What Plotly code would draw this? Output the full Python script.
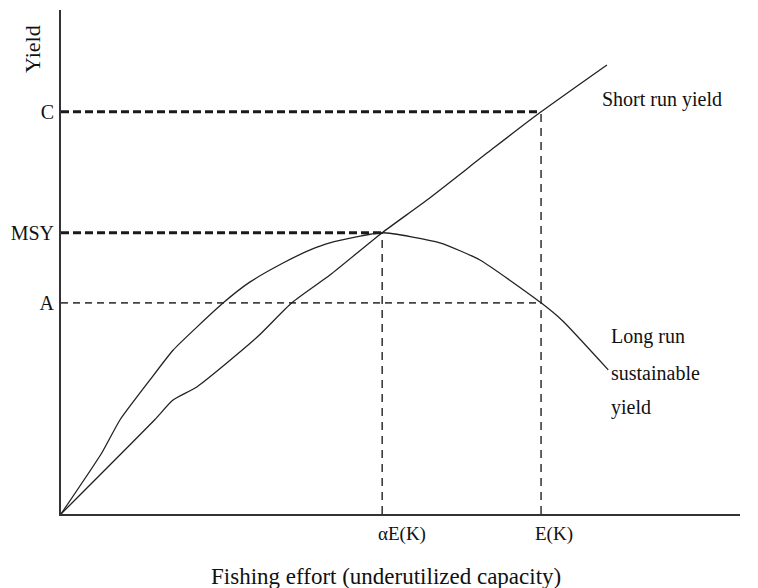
import plotly.graph_objects as go

# Data (arbitrary units)
effort_short = [0, 13.8, 16.5, 20.0, 28.9, 34.0, 39.6, 47.3, 53.9, 63.5, 70.7, 80.4]
yield_short = [0, 18.7, 22.6, 25.2, 35.1, 41.9, 47.4, 55.8, 62.3, 72.4, 79.8, 89.1]

effort_long = [0, 6.0, 8.7, 13.1, 16.5, 23.9, 27.8, 32.7, 36.7, 39.6, 47.3, 55.8, 61.7, 70.7, 73.9, 80.6]
yield_long = [0, 12.1, 18.7, 26.6, 32.5, 41.9, 46.0, 49.8, 52.4, 53.8, 55.8, 53.8, 50.4, 41.9, 38.3, 28.6]

E_msy = 47.3   # alpha E(K)
E_k = 70.7     # E(K)
MSY = 55.8
C = 79.8
A = 41.9

ytick_vals = [A, MSY, C]
ytick_text = ["A", "MSY", "C"]
xtick_vals = [E_msy, E_k]
xtick_text = ["\u03b1E(K)", "E(K)"]
xtick_shift = [-6, -8]

FONT = "Liberation Serif"
fig = go.Figure()

# reference lines
fig.add_trace(go.Scatter(x=[0, E_msy], y=[MSY, MSY], mode="lines",
                         line=dict(color="#1a1a1a", width=3, dash="8px,4px"), hoverinfo="skip"))
fig.add_trace(go.Scatter(x=[0, E_k], y=[C, C], mode="lines",
                         line=dict(color="#1a1a1a", width=3, dash="8px,4px"), hoverinfo="skip"))
fig.add_trace(go.Scatter(x=[0, E_k], y=[A, A], mode="lines",
                         line=dict(color="#444444", width=1.8, dash="7px,5px"), hoverinfo="skip"))
fig.add_trace(go.Scatter(x=[E_msy, E_msy], y=[0, MSY], mode="lines",
                         line=dict(color="#222222", width=1.4, dash="8px,6px"), hoverinfo="skip"))
fig.add_trace(go.Scatter(x=[E_k, E_k], y=[0, C], mode="lines",
                         line=dict(color="#222222", width=1.4, dash="8px,6px"), hoverinfo="skip"))

# curves
fig.add_trace(go.Scatter(x=effort_short, y=yield_short, mode="lines", name="Short run yield",
                         line=dict(color="#222222", width=1.3, shape="spline", smoothing=0.6)))
fig.add_trace(go.Scatter(x=effort_long, y=yield_long, mode="lines", name="Long run sustainable yield",
                         line=dict(color="#222222", width=1.3, shape="spline", smoothing=0.5)))

lab = dict(family=FONT, size=20, color="#111")
fig.add_annotation(x=79.4, y=82.3, xref="x", yref="y", text="Short run yield", showarrow=False,
                   xanchor="left", yanchor="middle", font=lab)
for txt, yy in [("Long run", 35.3), ("sustainable", 28.0), ("yield", 21.2)]:
    fig.add_annotation(x=80.7, y=yy, xref="x", yref="y", text=txt, showarrow=False,
                       xanchor="left", yanchor="middle", font=lab)

# x tick labels (set slightly right of their guide lines, as drawn)
for v, t, s in zip(xtick_vals, xtick_text, xtick_shift):
    fig.add_annotation(x=v, y=0, xref="x", yref="paper", text=t, showarrow=False,
                       xanchor="left", yanchor="middle", xshift=s, yshift=-20,
                       font=dict(family=FONT, size=19, color="#111"))

# x-axis title
fig.add_annotation(x=(386 - 61) / 679, y=0, xref="paper", yref="paper",
                   text="Fishing effort (underutilized capacity)", showarrow=False,
                   xanchor="center", yanchor="middle", yshift=-62,
                   font=dict(family=FONT, size=23, color="#111"))

# page body has an 8px margin, so the figure is shrunk and the margins offset by it
fig.update_layout(
    width=750, height=580,
    margin=dict(l=53, r=18, t=2, b=74),
    paper_bgcolor="white", plot_bgcolor="white",
    showlegend=False,
    font=dict(family=FONT, size=20, color="#111"),
    xaxis=dict(range=[0, 100], showgrid=False, zeroline=False, showline=True, automargin=False,
               linecolor="#333", linewidth=2, showticklabels=False, ticks=""),
    yaxis=dict(range=[0, 100], showgrid=False, zeroline=False, showline=True, automargin=False,
               linecolor="#333", linewidth=2, tickvals=ytick_vals, ticktext=ytick_text,
               ticks="outside", ticklen=1, tickcolor="rgba(0,0,0,0)",
               tickfont=dict(family=FONT, size=20)),
)
fig.add_annotation(x=(33 - 61) / 679, y=(514 - 49) / 504, xref="paper", yref="paper",
                   text="Yield", showarrow=False, textangle=-90,
                   xanchor="center", yanchor="middle",
                   font=dict(family=FONT, size=22, color="#111"))

fig.write_html("out.html")
